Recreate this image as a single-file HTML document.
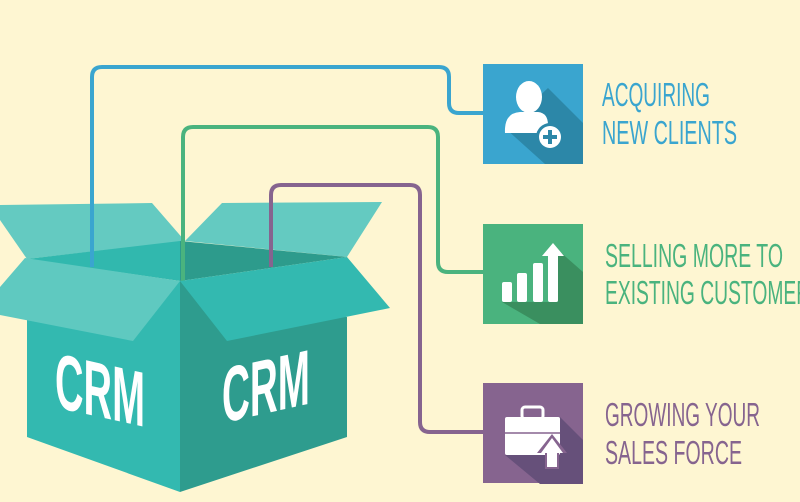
<!DOCTYPE html>
<html><head><meta charset="utf-8"><style>
html,body{margin:0;padding:0;background:#fef6d2;}
svg{display:block}
</style></head><body>
<svg width="800" height="502" viewBox="0 0 800 502" xmlns="http://www.w3.org/2000/svg">
<rect width="800" height="502" fill="#fef6d2"/>
<polygon points="0,205 152,203 185,241 27,259 0,220" fill="#64cac1"/>
<polygon points="185,241 222,203 382,202 347,257" fill="#64cac1"/>
<polygon points="27,259 180,241 180,281" fill="#31b8ae"/>
<polygon points="180,241 347,257 180,281" fill="#2d9b8c"/>
<g fill="none" stroke-width="4" stroke-linejoin="round">
<path d="M92,267 V77 Q92,67 102,67 H439 Q449,67 449,77 V103 Q449,113 459,113 H484" stroke="#3aa5cf"/>
<path d="M183,282 V137 Q183,127 193,127 H428 Q438,127 438,137 V262 Q438,272 448,272 H484" stroke="#4ab37e"/>
<path d="M271,267 V195 Q271,185 281,185 H410 Q420,185 420,195 V422 Q420,432 430,432 H484" stroke="#86648f"/>
</g>
<polygon points="27,320 180,281 180,492 27,437" fill="#33b9b0"/>
<polygon points="180,281 347,317 347,437 180,492" fill="#2e9c8e"/>
<polygon points="25,258 180,281 133,341 0,315 0,287" fill="#5fc9c0"/>
<polygon points="180,281 347,257 390,308 227,341" fill="#33b9b0"/>
<g font-family="'Liberation Sans',sans-serif" font-weight="bold" font-size="78" fill="#fff">
<text transform="translate(55,407) skewY(12.5)" x="0" y="0" textLength="90" lengthAdjust="spacingAndGlyphs">CRM</text>
<text transform="translate(222,423) skewY(-12.5)" x="0" y="0" textLength="88" lengthAdjust="spacingAndGlyphs">CRM</text>
</g>
<rect x="483" y="64" width="100" height="100" fill="#3aa5cf"/>
<polygon points="548,88 583,123 583,164 545,164 505,128" fill="#2c87a8"/>
<ellipse cx="529" cy="97" rx="13" ry="16" fill="#fff"/>
<path d="M505,133 Q504,113 520,112 H538 Q548,113 548,125 V133 Z" fill="#fff"/>
<circle cx="550" cy="137" r="14" fill="#2c87a8"/>
<circle cx="550" cy="137" r="11" fill="#fff"/>
<path d="M550,130 V144 M543,137 H557" stroke="#2c87a8" stroke-width="4"/>
<rect x="483" y="224" width="100" height="100" fill="#4ab37e"/>
<polygon points="558,250 583,272 583,324 540,324 502,302 558,302" fill="#3a8f5f"/>
<rect x="502" y="282" width="10" height="20" rx="2" fill="#fff"/>
<rect x="517" y="273" width="10" height="29" rx="2" fill="#fff"/>
<rect x="533" y="263" width="10" height="39" rx="2" fill="#fff"/>
<rect x="548" y="254" width="10" height="48" rx="2" fill="#fff"/>
<polygon points="553,243 564,256 542,256" fill="#fff"/>
<rect x="483" y="383" width="100" height="100" fill="#86648f"/>
<polygon points="560,417 583,440 583,484 540,484 505,455 545,455" fill="#66507a"/>
<rect x="522" y="407" width="21" height="12" rx="3" fill="none" stroke="#fff" stroke-width="3"/>
<rect x="505" y="417" width="55" height="38" rx="2" fill="#fff"/>
<line x1="505" y1="433" x2="560" y2="433" stroke="#86648f" stroke-width="1.5"/>
<polygon points="552,434 567,453 559,453 559,469 545,469 545,453 537,453" fill="#86648f"/>
<polygon points="552,438 563,453 557,453 557,467 547,467 547,453 541,453" fill="#fff"/>
<g font-family="'Liberation Sans',sans-serif" font-size="33">
<text x="602" y="106" fill="#3aa5cf" textLength="108" lengthAdjust="spacingAndGlyphs">ACQUIRING</text>
<text x="602" y="144" fill="#3aa5cf" textLength="135" lengthAdjust="spacingAndGlyphs">NEW CLIENTS</text>
<text x="605" y="267" fill="#4ab37e" textLength="178" lengthAdjust="spacingAndGlyphs">SELLING MORE TO</text>
<text x="605" y="304" fill="#4ab37e" textLength="218" lengthAdjust="spacingAndGlyphs">EXISTING CUSTOMERS</text>
<text x="605" y="426" fill="#86648f" textLength="155" lengthAdjust="spacingAndGlyphs">GROWING YOUR</text>
<text x="605" y="464" fill="#86648f" textLength="137" lengthAdjust="spacingAndGlyphs">SALES FORCE</text>
</g>
</svg>
</body></html>
